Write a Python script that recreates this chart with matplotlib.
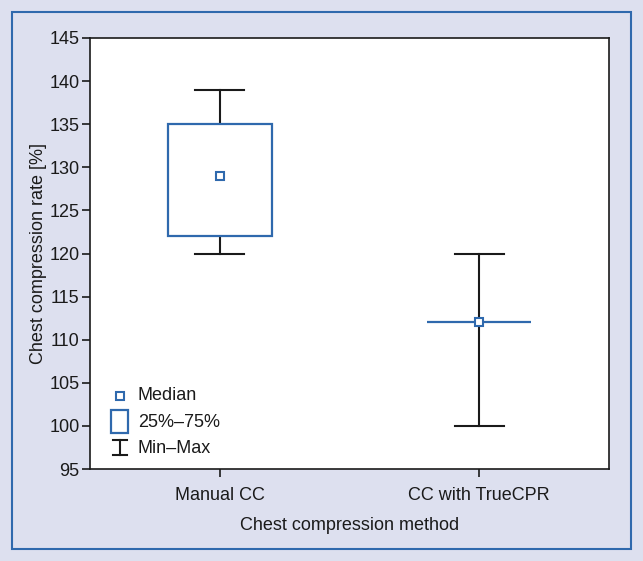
import matplotlib.pyplot as plt
from matplotlib.patches import Rectangle
from matplotlib.lines import Line2D

plt.rcParams['font.family'] = ['Liberation Sans Narrow', 'Liberation Sans', 'DejaVu Sans']

# data
methods = ['Manual CC', 'CC with TrueCPR']
mins = [120, 100]
q1 = [122, 112]
medians = [129, 112]
q3 = [135, 112]
maxs = [139, 120]

blue = '#2f69ad'
black = '#1a1a1a'
bg = '#dde0ef'

fig = plt.figure(figsize=(6.43, 5.61), dpi=100, facecolor=bg)
# outer blue frame
fig.patches.append(Rectangle((12/643, 1 - 549/561), 619/643, 537/561, transform=fig.transFigure,
                             fill=False, edgecolor=blue, linewidth=1.5))
ax = fig.add_axes([90/643, 1 - 469/561, 519/643, 431/561])
ax.set_facecolor('white')

bw = 0.4
cw = 0.19
for i in range(len(methods)):
    # whiskers
    ax.plot([i, i], [mins[i], q1[i]], color=black, lw=1.5, zorder=2)
    ax.plot([i, i], [q3[i], maxs[i]], color=black, lw=1.5, zorder=2)
    ax.plot([i - cw / 2, i + cw / 2], [mins[i], mins[i]], color=black, lw=1.5, zorder=2)
    ax.plot([i - cw / 2, i + cw / 2], [maxs[i], maxs[i]], color=black, lw=1.5, zorder=2)
    # box
    ax.add_patch(Rectangle((i - bw / 2, q1[i]), bw, q3[i] - q1[i], facecolor='white',
                           edgecolor=blue, lw=1.6, zorder=3))
    ax.plot(i, medians[i], marker='s', ms=5.5, mfc='white', mec=blue, mew=1.5, zorder=4)

ax.set_xlim(-0.5, 1.5)
ax.set_ylim(95, 145)
ax.set_yticks(range(95, 146, 5))
ax.set_xticks(range(len(methods)))
ax.set_xticklabels(methods)
ax.tick_params(axis='both', direction='out', length=6, width=1.2, color=black,
               labelsize=13, labelcolor=black)
ax.tick_params(axis='y', pad=1.5)
ax.tick_params(axis='x', pad=7)
for s in ax.spines.values():
    s.set_linewidth(1.2)
    s.set_color(black)
ax.set_ylabel('Chest compression rate [%]', fontsize=13, color=black, labelpad=2)
ax.set_xlabel('Chest compression method', fontsize=13, color=black, labelpad=9)

# legend drawn by hand
t = ax.transAxes
ax.plot(0.058, 0.170, marker='s', ms=5.5, mfc='white', mec=blue, mew=1.5, transform=t)
ax.add_patch(Rectangle((0.041, 0.084), 0.032, 0.053, facecolor='white', edgecolor=blue,
                       lw=1.6, transform=t))
ax.add_line(Line2D([0.058, 0.058], [0.032, 0.067], color=black, lw=1.5, transform=t))
ax.add_line(Line2D([0.044, 0.072], [0.067, 0.067], color=black, lw=1.5, transform=t))
ax.add_line(Line2D([0.044, 0.072], [0.032, 0.032], color=black, lw=1.5, transform=t))
for y, s in [(0.170, 'Median'), (0.108, '25%–75%'), (0.047, 'Min–Max')]:
    ax.text(0.092, y, s, transform=t, fontsize=13, va='center', ha='left', color=black)

fig.savefig('out.png', dpi=100, facecolor=bg)
